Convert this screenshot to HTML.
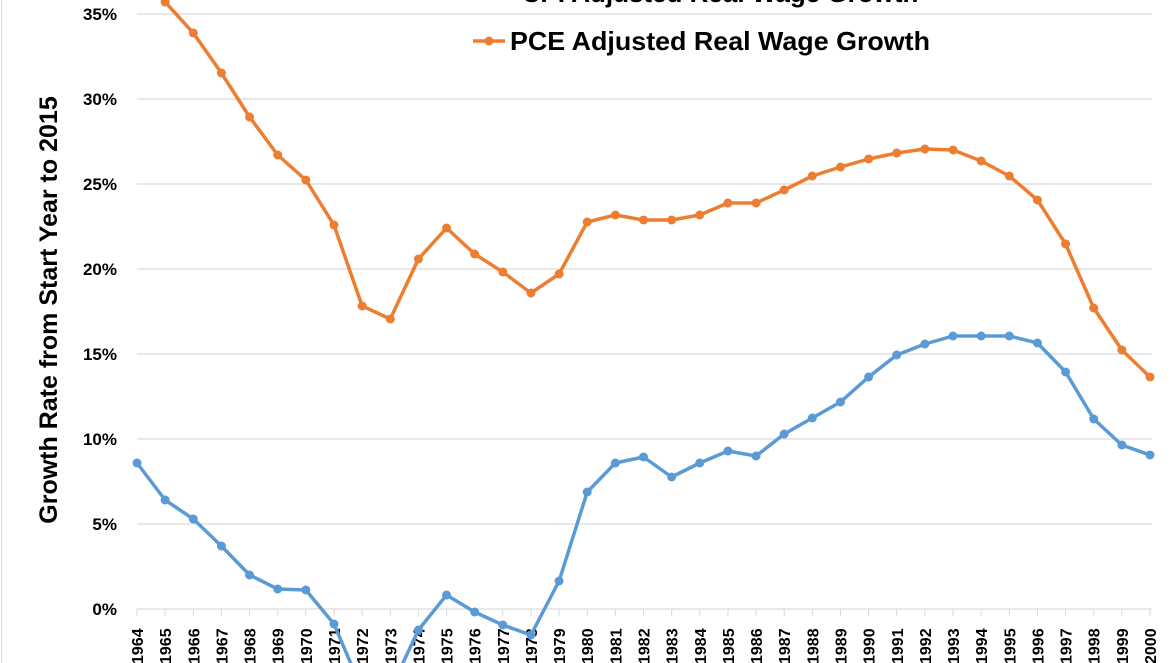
<!DOCTYPE html>
<html><head><style>body{margin:0;background:#fff}svg{display:block}</style></head><body>
<svg width="1170" height="663" xmlns="http://www.w3.org/2000/svg" font-family="Liberation Sans, sans-serif" font-weight="bold">
<rect x="0" y="0" width="1170" height="663" fill="#fff"/>
<line x1="1.5" y1="0" x2="1.5" y2="663" stroke="#d9d9d9"/>
<g stroke="#d9d9d9" stroke-width="1.3">
<line x1="137" y1="14" x2="1152" y2="14"/>
<line x1="137" y1="99" x2="1152" y2="99"/>
<line x1="137" y1="184" x2="1152" y2="184"/>
<line x1="137" y1="269" x2="1152" y2="269"/>
<line x1="137" y1="354" x2="1152" y2="354"/>
<line x1="137" y1="439" x2="1152" y2="439"/>
<line x1="137" y1="524" x2="1152" y2="524"/>
<line x1="137" y1="609" x2="1152" y2="609"/>
</g>
<g font-size="17" text-anchor="end" fill="#000">
<text x="117" y="20">35%</text><text x="117" y="105">30%</text><text x="117" y="190">25%</text><text x="117" y="275">20%</text><text x="117" y="360">15%</text><text x="117" y="445">10%</text><text x="117" y="530">5%</text><text x="117" y="615">0%</text>
</g>
<text transform="translate(57,310) rotate(-90)" font-size="25" text-anchor="middle">Growth Rate from Start Year to 2015</text>
<g id="ticks" stroke="#d9d9d9"></g>
<g id="yrs" font-size="16" fill="#000"></g>
<polyline id="pce" fill="none" stroke="#ed7d31" stroke-width="3.5" stroke-linejoin="round"/>
<polyline id="cpi" fill="none" stroke="#5b9bd5" stroke-width="3.5" stroke-linejoin="round"/>
<g id="pm" fill="#ed7d31"></g><g id="cm" fill="#5b9bd5"></g>
<text x="720" y="2" font-size="26" text-anchor="middle">CPI Adjusted Real Wage Growth</text>
<line x1="473" y1="41" x2="505" y2="41" stroke="#ed7d31" stroke-width="3.5"/>
<circle cx="489" cy="41" r="4.5" fill="#ed7d31"/>
<text x="510" y="50" font-size="26" textLength="420" lengthAdjust="spacingAndGlyphs">PCE Adjusted Real Wage Growth</text>
<script>
var o=[-28,2,33,73,117,155,180,225,306,319,259,228,254,272,293,274,222,215,220,220,215,203,203,190,176,167,159,153,149,150,161,176,200,244,308,350,377];
var c=[463,500,519,546,575,589,590,624,690,690,630,595,612,625,635,581,492,463,457,477,463,451,456,434,418,402,377,355,344,336,336,336,343,372,419,445,455];
var ns="http://www.w3.org/2000/svg",po=[],pc=[];
function X(i){return 137+i*1013/36;}
for(var i=0;i<37;i++){var x=X(i);po.push(x+","+o[i]);pc.push(x+","+c[i]);
var l=document.createElementNS(ns,"line");l.setAttribute("x1",x);l.setAttribute("x2",x);l.setAttribute("y1",609);l.setAttribute("y2",616);document.getElementById("ticks").appendChild(l);
var t=document.createElementNS(ns,"text");t.setAttribute("transform","translate("+(x+6)+",664) rotate(-90)");t.textContent=1964+i;document.getElementById("yrs").appendChild(t);
[["pm",o[i]],["cm",c[i]]].forEach(function(a){var m=document.createElementNS(ns,"circle");m.setAttribute("cx",x);m.setAttribute("cy",a[1]);m.setAttribute("r",4.5);document.getElementById(a[0]).appendChild(m);});}
document.getElementById("pce").setAttribute("points",po.join(" "));
document.getElementById("cpi").setAttribute("points",pc.join(" "));
</script>
</svg>
</body></html>
